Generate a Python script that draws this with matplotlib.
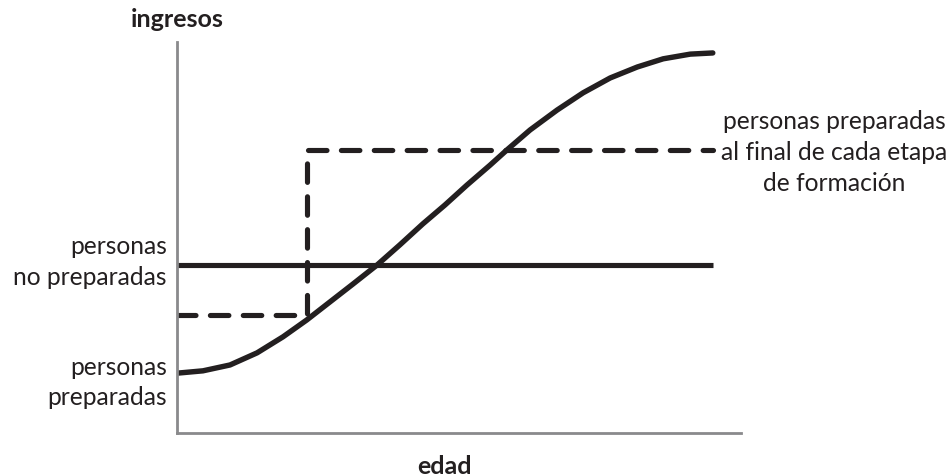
import matplotlib.pyplot as plt

# values (x = edad, y = ingresos, both on a 0-100 scale)
curve_x = [0.0, 4.6, 9.4, 14.2, 18.8, 23.0, 27.1, 31.2, 35.5, 39.5, 43.6, 47.5,
           51.4, 55.5, 58.5, 62.6, 67.4, 72.0, 76.8, 81.6, 86.2, 91.0, 95.0]
curve_y = [15.3, 15.9, 17.4, 20.5, 24.6, 28.9, 33.5, 38.1, 43.0, 48.1, 53.5, 58.3,
           63.4, 68.5, 72.4, 77.5, 82.6, 87.0, 90.8, 93.6, 95.7, 96.9, 97.2]

flat_x = [0.0, 95.0]
flat_y = [43.0, 43.0]

step_x = [0.0, 23.0, 23.0, 95.0]
step_y = [30.2, 30.2, 72.4, 72.4]

label_flat = "personas\nno preparadas"
label_curve = "personas\npreparadas"
label_step = "personas preparadas\nal final de cada etapa\nde formación"

plt.rcParams['font.family'] = ['Lato', 'DejaVu Sans']

fig = plt.figure(figsize=(9.51, 4.77), dpi=100)
ax = fig.add_axes([177 / 951, 43 / 477, 564 / 951, 391 / 477])

ink = '#231f20'
ax.plot(curve_x, curve_y, color=ink, lw=3.9, solid_capstyle='round',
        solid_joinstyle='round')
ax.plot(flat_x, flat_y, color=ink, lw=3.7, solid_capstyle='butt')
ax.plot(step_x, step_y, color=ink, lw=3.7, dashes=(3.6, 2.8),
        dash_capstyle='round', dash_joinstyle='miter')

ax.set_xlim(0, 100)
ax.set_ylim(0, 100)
ax.set_xticks([])
ax.set_yticks([])
for side in ['top', 'right']:
    ax.spines[side].set_visible(False)
for side in ['left', 'bottom']:
    ax.spines[side].set_color('#8a8a8c')
    ax.spines[side].set_linewidth(2.0)

txt = dict(color=ink, fontsize=17.7, clip_on=False)
bold = dict(color=ink, fontsize=18, fontweight='bold', clip_on=False)
ax.text(0, 106, "ingresos", ha='center', va='center', **bold)
ax.text(47.5, -8.2, "edad", ha='center', va='center', **bold)
ax.text(-1.8, 44.0, label_flat, ha='right', va='center', linespacing=1.4, **txt)
ax.text(-1.8, 13.2, label_curve, ha='right', va='center', linespacing=1.4, **txt)
ax.text(116.5, 72.0, label_step, ha='center', va='center', linespacing=1.4, **txt)

fig.savefig('out.png', dpi=100)
